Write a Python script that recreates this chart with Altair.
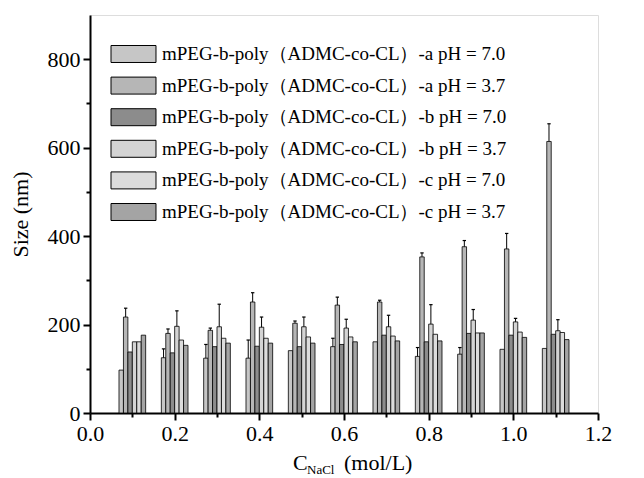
import altair as alt
import pandas as pd

conc = [0.1, 0.2, 0.3, 0.4, 0.5, 0.6, 0.7, 0.8, 0.9, 1.0, 1.1]
series_labels = [
    "mPEG-b-poly（ADMC-co-CL）-a pH = 7.0",
    "mPEG-b-poly（ADMC-co-CL）-a pH = 3.7",
    "mPEG-b-poly（ADMC-co-CL）-b pH = 7.0",
    "mPEG-b-poly（ADMC-co-CL）-b pH = 3.7",
    "mPEG-b-poly（ADMC-co-CL）-c pH = 7.0",
    "mPEG-b-poly（ADMC-co-CL）-c pH = 3.7",
]
a70 = [97, 125, 124, 124, 141, 150, 161, 128, 133, 144, 146]
a70_err = [0, 20, 31, 41, 0, 19, 0, 20, 15, 0, 0]
a37 = [217, 180, 187, 251, 203, 244, 251, 353, 376, 371, 614]
a37_err = [20, 10, 5, 21, 5, 18, 4, 9, 14, 35, 40]
b70 = [138, 136, 150, 151, 150, 155, 176, 161, 180, 176, 178]
b70_err = [0, 0, 0, 0, 0, 0, 0, 0, 0, 0, 0]
b37 = [161, 196, 195, 194, 195, 192, 195, 201, 210, 206, 186]
b37_err = [0, 35, 51, 23, 22, 20, 26, 44, 24, 8, 25]
c70 = [161, 165, 169, 169, 172, 172, 174, 178, 181, 183, 182]
c70_err = [0, 0, 0, 0, 0, 0, 0, 0, 0, 0, 0]
c37 = [176, 153, 158, 158, 158, 161, 163, 163, 181, 171, 166]
c37_err = [0, 0, 0, 0, 0, 0, 0, 0, 0, 0, 0]

x_ticks = [0.0, 0.1, 0.2, 0.3, 0.4, 0.5, 0.6, 0.7, 0.8, 0.9, 1.0, 1.1, 1.2]
y_ticks = [0, 100, 200, 300, 400, 500, 600, 700, 800]

sizes = [a70, a37, b70, b37, c70, c37]
errs = [a70_err, a37_err, b70_err, b37_err, c70_err, c37_err]
fills = ["#c6c6c6", "#b6b6b6", "#8c8c8c", "#d4d4d4", "#dcdcdc", "#a4a4a4"]

rows = []
for i, name in enumerate(series_labels):
    for j, c in enumerate(conc):
        rows.append({"conc": c, "series": name, "idx": i,
                     "size": sizes[i][j], "err": errs[i][j]})
df = pd.DataFrame(rows)

FONT = "Liberation Serif"

base = alt.Chart(df).transform_calculate(
    xc="datum.conc + (datum.idx - 2.5) * 0.0105",
).transform_calculate(
    x0="datum.xc - 0.00525",
    x1="datum.xc + 0.00525",
    c0="datum.xc - 0.004",
    c1="datum.xc + 0.004",
    top="datum.size + datum.err",
)

xscale = alt.Scale(domain=[0, 1.2], nice=False, zero=False)
yscale = alt.Scale(domain=[0, 900], nice=False)

xaxis = alt.Axis(
    values=x_ticks,
    labelExpr="round(datum.value * 10) % 2 == 0 ? format(datum.value, '.1f') : ''",
    tickSize={"condition": {"test": "round(datum.value * 10) % 2 == 0", "value": 7}, "value": 4},
    title=None, grid=False, labelFont=FONT, labelFontSize=22, labelColor="black",
    domainColor="black", domainWidth=2, tickColor="black", tickWidth=2, labelPadding=3,
    labelFlush=False, labelOverlap=False,
)
yaxis = alt.Axis(
    values=y_ticks,
    labelExpr="datum.value % 200 == 0 ? datum.label : ''",
    tickSize={"condition": {"test": "datum.value % 200 == 0", "value": 7}, "value": 4},
    title="Size (nm)", titleFont=FONT, titleFontSize=22, titleFontWeight="normal",
    titleColor="black", titlePadding=15,
    grid=False, labelFont=FONT, labelFontSize=22, labelColor="black",
    domainColor="black", domainWidth=2, tickColor="black", tickWidth=2, labelPadding=3,
    labelFlush=False, labelOverlap=False,
)

bars = base.mark_bar(stroke="black", strokeWidth=0.8).encode(
    x=alt.X("x0:Q", scale=xscale, axis=xaxis),
    x2="x1:Q",
    y=alt.Y("size:Q", scale=yscale, axis=yaxis),
    y2=alt.datum(0),
    fill=alt.Fill(
        "series:N",
        scale=alt.Scale(domain=series_labels, range=fills),
        legend=alt.Legend(
            title=None, orient="none", legendX=31.5, legendY=27,
            symbolType="M-2,-0.755H2V0.755H-2Z", symbolSize=506,
            symbolStrokeColor="black", symbolStrokeWidth=1, symbolOpacity=1,
            labelFont=FONT, labelFontSize=19, labelColor="black",
            labelOffset=16.5, labelLimit=0, rowPadding=8.6, padding=0,
        ),
    ),
)

err_rule = base.transform_filter("datum.err > 0").mark_rule(
    color="black", strokeWidth=1).encode(
    x="xc:Q", y="size:Q", y2="top:Q")

caps = base.transform_filter("datum.err > 0").mark_rule(
    color="black", strokeWidth=1.2).encode(
    x="c0:Q", x2="c1:Q", y="top:Q")

t_main = alt.Chart(pd.DataFrame({"t": ["C"]})).mark_text(
    font=FONT, fontSize=22, align="left", baseline="alphabetic", color="black"
).encode(text="t:N", x=alt.value(203), y=alt.value(455))
t_sub = alt.Chart(pd.DataFrame({"t": ["NaCl"]})).mark_text(
    font=FONT, fontSize=13, align="left", baseline="alphabetic", color="black"
).encode(text="t:N", x=alt.value(217), y=alt.value(459))
t_unit = alt.Chart(pd.DataFrame({"t": ["(mol/L)"]})).mark_text(
    font=FONT, fontSize=22, align="left", baseline="alphabetic", color="black"
).encode(text="t:N", x=alt.value(254), y=alt.value(455))

chart = alt.layer(bars, err_rule, caps, t_main, t_sub, t_unit).properties(
    width=508, height=398,
    autosize=alt.AutoSizeParams(type="none"),
    padding={"left": 82, "top": 7, "right": 38, "bottom": 64},
).configure_view(stroke="black", strokeWidth=2).configure(background="white")

chart.save("out.html", embed_options={"renderer": "svg", "actions": False})
